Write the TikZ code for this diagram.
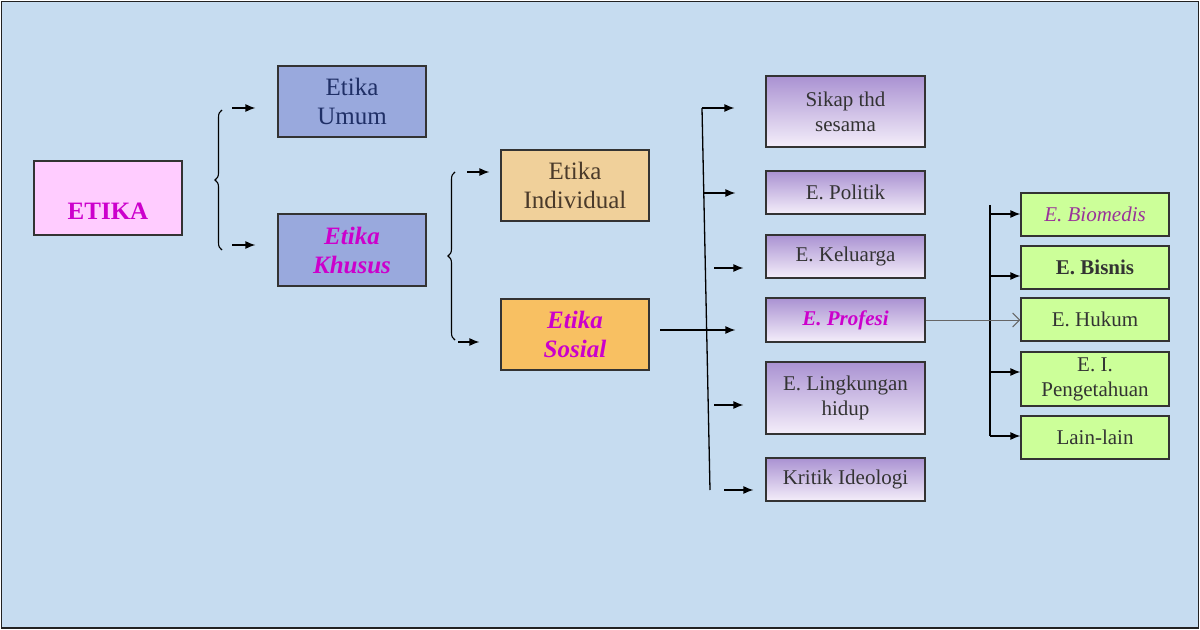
\documentclass[tikz,border=0pt]{standalone}
\usepackage{fontspec}
\setmainfont{Liberation Serif}
\usetikzlibrary{arrows.meta,decorations.pathreplacing}
\definecolor{pcC6DCF0}{HTML}{C6DCF0}
\definecolor{pc222222}{HTML}{222222}
\definecolor{pc333333}{HTML}{333333}
\definecolor{pcFFCCFF}{HTML}{FFCCFF}
\definecolor{pc99A9DD}{HTML}{99A9DD}
\definecolor{pcF0D09A}{HTML}{F0D09A}
\definecolor{pcF8C062}{HTML}{F8C062}
\definecolor{pcAA92D2}{HTML}{AA92D2}
\definecolor{pcF4EEFA}{HTML}{F4EEFA}
\definecolor{pcCCFF99}{HTML}{CCFF99}
\definecolor{pcCC00CC}{HTML}{CC00CC}
\definecolor{pc993399}{HTML}{993399}
\definecolor{pc1F2F66}{HTML}{1F2F66}
\definecolor{pc4A3A2A}{HTML}{4A3A2A}
\definecolor{pc666666}{HTML}{666666}

\begin{document}
\begin{tikzpicture}[x=1bp, y=-1bp,
  box/.style={draw=pc333333, line width=1.2bp, align=center, inner sep=2bp, text=pc333333},
  bigbox/.style={box, minimum width=148bp, font=\fontsize{25bp}{29bp}\selectfont},
  ungu/.style={box, minimum width=159bp, top color=pcAA92D2, bottom color=pcF4EEFA, font=\fontsize{21bp}{25bp}\selectfont},
  hijau/.style={box, fill=pcCCFF99, minimum width=148bp, font=\fontsize{21bp}{25bp}\selectfont},
  hot/.style={text=pcCC00CC, execute at begin node=\bfseries\itshape},
  arr/.style={line width=1.3bp, color=black, -{Latex[length=10bp,width=8bp]}},
  brc/.style={line width=1.1bp, decorate, decoration={brace, amplitude=7bp}}]
\path[use as bounding box] (0,0) rectangle (1200,630);
\path[fill=pcC6DCF0, draw=pc222222, line width=1.5bp] (1.5,1.5) rectangle (1198.5,628);

% kolom 1 dan 2
\node[bigbox, fill=pcFFCCFF, minimum height=74bp, text height=44bp, text depth=0bp,
  text=pcCC00CC, execute at begin node=\bfseries] (etika) at (108,198) {ETIKA};
\node[bigbox, fill=pc99A9DD, minimum height=71bp, text=pc1F2F66] (umum) at (352,101.5) {Etika\\Umum};
\node[bigbox, fill=pc99A9DD, minimum height=72bp, hot] (khusus) at (352,250) {Etika\\Khusus};
\node[bigbox, fill=pcF0D09A, minimum height=71bp, text=pc4A3A2A] (indiv) at (575,185.5) {Etika\\Individual};
\node[bigbox, fill=pcF8C062, minimum height=71bp, hot] (sosial) at (575,334.5) {Etika\\Sosial};

% kolom 3
\node[ungu, minimum height=71bp] (sikap) at (845.5,111.5) {Sikap thd\\sesama};
\node[ungu, minimum height=43bp] (politik) at (845.5,192.5) {E. Politik};
\node[ungu, minimum height=43bp] (keluarga) at (845.5,256.5) {E. Keluarga};
\node[ungu, minimum height=44bp, hot] (profesi) at (845.5,320) {E. Profesi};
\node[ungu, minimum height=72bp] (lingk) at (845.5,398) {E. Lingkungan\\hidup};
\node[ungu, minimum height=43bp] (kritik) at (845.5,479.5) {Kritik Ideologi};

% kolom 4
\node[hijau, minimum height=43bp, text=pc993399, execute at begin node=\itshape] (biomed) at (1095,214.5) {E. Biomedis};
\node[hijau, minimum height=43bp, execute at begin node=\bfseries] (bisnis) at (1095,267.5) {E. Bisnis};
\node[hijau, minimum height=43bp] (hukum) at (1095,319.5) {E. Hukum};
\node[hijau, minimum height=54bp, inner sep=0bp] (ipeng) at (1095,379) {E. I.\\Pengetahuan};
\node[hijau, minimum height=43bp] (lain) at (1095,437.5) {Lain-lain};

% kurung kurawal
\draw[brc] (222,250) -- (222,110);
\draw[brc] (455,340) -- (455,172);
\coordinate (a1) at (232,108);
\coordinate (a2) at (232,245);
\coordinate (b1) at (467,172);
\coordinate (b2) at (458,342);
\draw[arr, shorten >=22bp] (a1) -- (a1 -| umum.west);
\draw[arr, shorten >=22bp] (a2) -- (a2 -| khusus.west);
\draw[arr, shorten >=11bp] (b1) -- (b1 -| indiv.west);
\draw[arr, shorten >=21bp] (b2) -- (b2 -| sosial.west);

% garis etika sosial
\coordinate (c0) at (702,108);
\coordinate (c9) at (710,490);
\draw[line width=1.3bp] (c0) -- (c9);
\coordinate (c2) at (703,193);
\coordinate (c3) at (714,268);
\coordinate (c4) at (660,330);
\coordinate (c5) at (714,405);
\coordinate (c6) at (724,490);
\draw[arr, shorten >=31bp] (c0) -- (c0 -| sikap.west);
\draw[arr, shorten >=30bp] (c2) -- (c2 -| politik.west);
\draw[arr, shorten >=22bp] (c3) -- (c3 -| keluarga.west);
\draw[arr, shorten >=30bp] (c4) -- (c4 -| profesi.west);
\draw[arr, shorten >=22bp] (c5) -- (c5 -| lingk.west);
\draw[arr, shorten >=12bp] (c6) -- (c6 -| kritik.west);

% garis etika profesi
\coordinate (d0) at (990,205);
\coordinate (d9) at (990,436);
\draw[line width=1.3bp] (d0) -- (d9);
\coordinate (d1) at (990,214);
\coordinate (d2) at (990,276);
\coordinate (d3) at (990,372);
\draw[arr] (d1) -- (d1 -| biomed.west);
\draw[arr] (d2) -- (d2 -| bisnis.west);
\draw[arr] (d3) -- (d3 -| ipeng.west);
\draw[arr] (d9) -- (d9 -| lain.west);
\draw[line width=1bp, color=pc666666, -{Straight Barb[length=7bp,width=14bp]}] (profesi.east) -- (profesi.east -| hukum.west);
\end{tikzpicture}
\end{document}
